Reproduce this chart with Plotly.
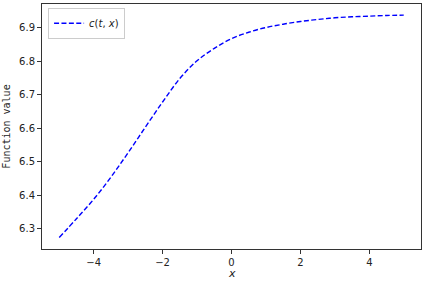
import plotly.graph_objects as go

x_vals = [-5.0, -4.5, -4.0, -3.5, -3.0, -2.5, -2.0, -1.5, -1.0, -0.5, 0.0,
          0.5, 1.0, 1.5, 2.0, 2.5, 3.0, 3.5, 4.0, 4.5, 5.0]
y_vals = [6.274, 6.330, 6.388, 6.454, 6.527, 6.603, 6.678, 6.748, 6.801, 6.838, 6.867,
          6.886, 6.900, 6.910, 6.918, 6.924, 6.929, 6.932, 6.934, 6.936, 6.937]
series_name = "<i>c</i>(<i>t</i>, <i>x</i>)"
x_label = "<i>x</i>"
y_label = "Function value"
x_ticks = [-4, -2, 0, 2, 4]
y_ticks = [6.3, 6.4, 6.5, 6.6, 6.7, 6.8, 6.9]

fig = go.Figure()
fig.add_trace(go.Scatter(
    x=x_vals, y=y_vals, mode="lines", name=series_name,
    line=dict(color="#0000ff", width=1.4, dash="5px,2.4px", shape="spline", smoothing=1.0),
    showlegend=True,
))

font = "DejaVu Sans"
axis_common = dict(
    showline=True, linecolor="#333333", linewidth=1, mirror=True,
    ticks="outside", ticklen=4, tickwidth=1, tickcolor="#333333",
    showgrid=False, zeroline=False,
    tickfont=dict(family=font, size=10, color="#222222"),
)
fig.update_layout(
    width=425, height=282,
    margin=dict(l=42, r=4, t=4, b=33),
    paper_bgcolor="white", plot_bgcolor="white",
    xaxis=dict(range=[-5.5, 5.5], tickvals=x_ticks,
               ticktext=[str(t).replace("-", "−") for t in x_ticks],
               **axis_common),
    yaxis=dict(range=[6.2398, 6.9702], tickvals=y_ticks,
               ticktext=[f"{t:.1f}" for t in y_ticks],
               title=dict(text=y_label, font=dict(family="DejaVu Sans Mono", size=10, color="#222222"), standoff=6),
               **axis_common),
    legend=dict(x=0.016, y=0.985, xanchor="left", yanchor="top",
                bgcolor="white", bordercolor="#cccccc", borderwidth=1,
                font=dict(family=font, size=10, color="#222222"),
                itemwidth=30, tracegroupgap=0),
    annotations=[dict(text=x_label, xref="paper", yref="paper", x=0.5, y=0,
                      yshift=-24, xanchor="center", yanchor="middle", showarrow=False,
                      font=dict(family=font, size=11, color="#222222"))],
)
fig.write_html("out.html", config={"displayModeBar": False},
               post_script="document.body.style.margin='0px';document.body.style.padding='0px';")
